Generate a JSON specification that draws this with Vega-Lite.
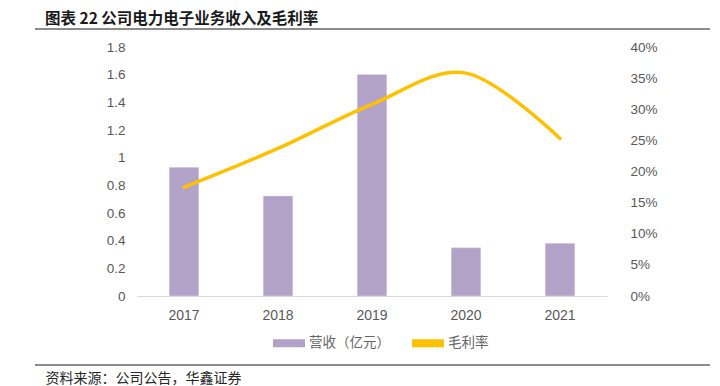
{
  "$schema": "https://vega.github.io/schema/vega-lite/v6.json",
  "autosize": "none",
  "width": 470,
  "height": 249,
  "padding": {"left": 137, "top": 47, "right": 113, "bottom": 90},
  "background": "white",
  "title": {
    "text": "图表 22  公司电力电子业务收入及毛利率",
    "anchor": "start",
    "frame": "group",
    "dx": -92,
    "offset": 1,
    "font": "Noto Sans CJK SC",
    "fontSize": 15.5,
    "fontWeight": "bold",
    "color": "#1a1a1a"
  },
  "config": {
    "view": {"stroke": null},
    "axis": {"grid": false, "labelFont": "Liberation Sans", "labelColor": "#595959", "labelFontSize": 13.5}
  },
  "data": {
    "values": [
      {"year": "2017", "revenue": 0.93, "margin": 0.1746},
      {"year": "2018", "revenue": 0.723, "margin": 0.237},
      {"year": "2019", "revenue": 1.602, "margin": 0.308},
      {"year": "2020", "revenue": 0.349, "margin": 0.358},
      {"year": "2021", "revenue": 0.381, "margin": 0.253}
    ]
  },
  "layer": [
    {
      "mark": {"type": "bar", "stroke": "#e6dcf0", "strokeWidth": 0.5},
      "encoding": {
        "x": {
          "field": "year", "type": "ordinal",
          "scale": {"type": "band", "paddingInner": 0.685, "paddingOuter": 0.3425},
          "axis": {
            "orient": "bottom", "labelAngle": 0, "ticks": false, "domainColor": "#d9d9d9", "domainWidth": 1,
            "labelPadding": 12, "labelFontSize": 14,
            "title": "资料来源：公司公告，华鑫证券",
            "titleX": -92, "titleY": 82, "titleAlign": "left", "titleAnchor": "start", "titleBaseline": "middle",
            "titleFont": "Noto Sans CJK SC", "titleFontSize": 14, "titleFontWeight": "normal", "titleColor": "#262626"
          }
        },
        "y": {
          "field": "revenue", "type": "quantitative",
          "scale": {"domain": [0, 1.8], "nice": false},
          "axis": {
            "orient": "left", "title": null, "domain": false, "ticks": false, "labelPadding": 12,
            "values": [0, 0.2, 0.4, 0.6, 0.8, 1, 1.2, 1.4, 1.6, 1.8], "format": "~g"
          }
        },
        "color": {
          "datum": "营收（亿元）", "type": "nominal",
          "scale": {"domain": ["营收（亿元）", "毛利率"], "range": ["#B3A2C7", "#FFC000"]},
          "legend": {
            "orient": "none", "legendX": 136, "legendY": 280, "direction": "horizontal", "title": null,
            "padding": 0, "symbolSize": 1024, "symbolType": "M-1,-0.25H1V0.25H-1Z", "symbolStrokeWidth": 0,
            "labelFont": "Noto Sans CJK SC", "labelFontSize": 13.5, "labelColor": "#666666",
            "labelOffset": 4, "columnPadding": 22,
            "encode": {
              "symbols": {
                "update": {
                  "shape": {"signal": "datum.value === '毛利率' ? 'M-1,-0.11H1V0.11H-1Z' : 'M-1,-0.26H1V0.26H-1Z'"},
                  "fill": {"scale": "color", "field": "value"},
                  "fillOpacity": {"value": 1},
                  "opacity": {"value": 1},
                  "strokeWidth": {"value": 0}
                }
              }
            }
          }
        }
      }
    },
    {
      "mark": {"type": "line", "interpolate": "cardinal", "strokeWidth": 3.5, "strokeCap": "round"},
      "encoding": {
        "x": {
          "field": "year", "type": "ordinal",
          "scale": {"type": "point", "padding": 0.5},
          "axis": null
        },
        "y": {
          "field": "margin", "type": "quantitative",
          "scale": {"domain": [0, 0.4], "nice": false},
          "axis": {
            "orient": "right", "title": null, "domain": false, "ticks": false, "labelPadding": 23,
            "values": [0, 0.05, 0.1, 0.15, 0.2, 0.25, 0.3, 0.35, 0.4], "format": ".0%"
          }
        },
        "color": {"datum": "毛利率", "type": "nominal"}
      }
    },
    {
      "mark": {"type": "rule", "color": "#8c8c8c", "strokeWidth": 1.5},
      "encoding": {
        "x": {"datum": -0.217, "type": "quantitative", "scale": {"domain": [0, 1], "nice": false, "zero": false}, "axis": null},
        "x2": {"datum": 1.219},
        "y": {"datum": 1.93, "type": "quantitative", "scale": {"domain": [0, 1.8], "nice": false}, "axis": null}
      }
    },
    {
      "mark": {"type": "rule", "color": "#8c8c8c", "strokeWidth": 1.5},
      "encoding": {
        "x": {"datum": -0.217, "type": "quantitative", "scale": {"domain": [0, 1], "nice": false, "zero": false}, "axis": null},
        "x2": {"datum": 1.219},
        "y": {"datum": -0.499, "type": "quantitative", "scale": {"domain": [0, 1.8], "nice": false}, "axis": null}
      }
    }
  ],
  "resolve": {"scale": {"x": "independent", "y": "independent"}}
}
